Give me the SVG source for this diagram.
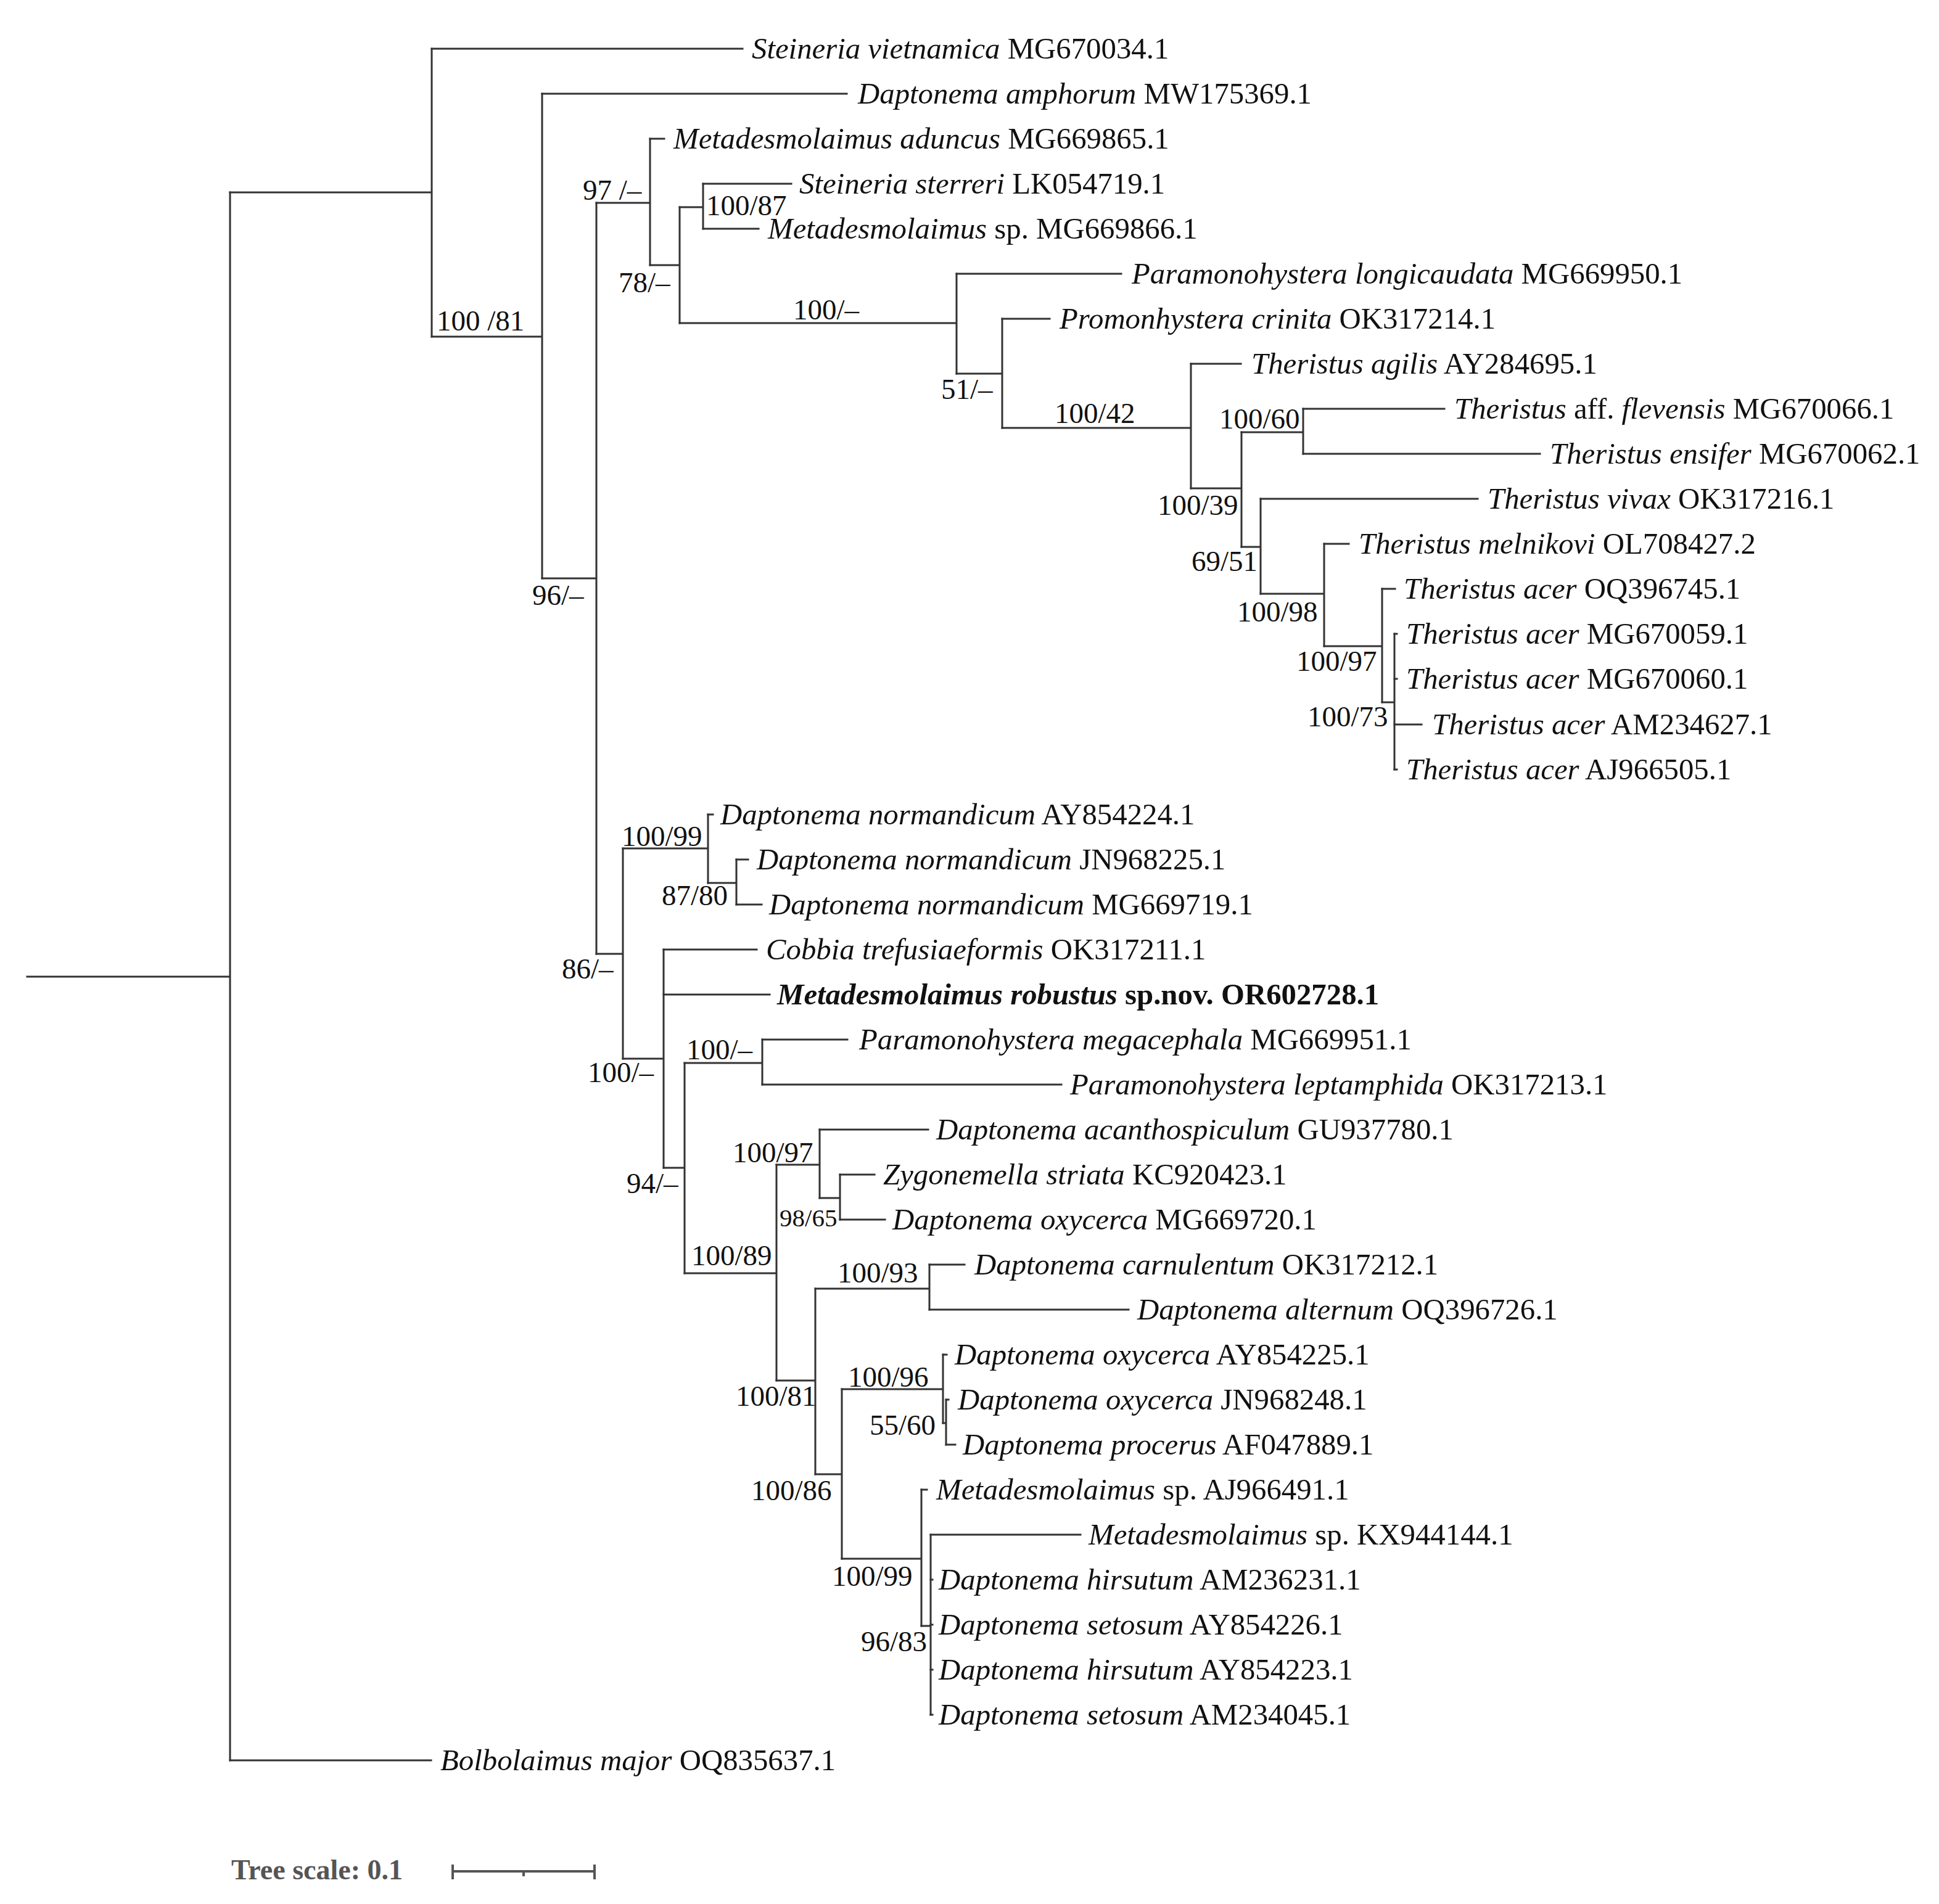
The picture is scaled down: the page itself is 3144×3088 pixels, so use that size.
<svg xmlns="http://www.w3.org/2000/svg" width="3144" height="3088" viewBox="0 0 3144 3088">
<style>
.br{fill:none;stroke:#333;stroke-width:3;stroke-linecap:square}
.lf{font-family:"Liberation Serif","Times New Roman",serif;font-size:48.8px;fill:#111}
.i{font-style:italic}
.bs{font-family:"Liberation Serif","Times New Roman",serif;font-size:47px;fill:#111}
.sm{font-size:41px}
.b{font-weight:bold}
.sc{font-family:"Liberation Serif","Times New Roman",serif;font-size:46px;font-weight:bold;fill:#555}
.sb{fill:none;stroke:#555;stroke-width:4}
</style>
<rect width="3144" height="3088" fill="#fff"/>
<g id="connectors">
<path class="br" d="M44 1584H373M373 312V2855"/>
<path class="br" d="M373 312H700M700 79V546"/>
<path class="br" d="M700 546H879M879 152V938"/>
<path class="br" d="M879 938H967M967 329V1547"/>
<path class="br" d="M967 329H1054M1054 225V430"/>
<path class="br" d="M1054 430H1102M1102 336V524"/>
<path class="br" d="M1102 336H1140M1140 298V371"/>
<path class="br" d="M1102 524H1551M1551 444V606"/>
<path class="br" d="M1551 606H1625M1625 517V694"/>
<path class="br" d="M1625 694H1931M1931 590V792"/>
<path class="br" d="M1931 792H2013M2013 701V887"/>
<path class="br" d="M2013 701H2113M2113 663V736"/>
<path class="br" d="M2013 887H2044M2044 809V963"/>
<path class="br" d="M2044 963H2147M2147 882V1048"/>
<path class="br" d="M2147 1048H2241M2241 955V1139"/>
<path class="br" d="M2241 1139H2261M2261 1028V1248"/>
<path class="br" d="M967 1547H1010M1010 1376V1717"/>
<path class="br" d="M1010 1376H1148M1148 1321V1432"/>
<path class="br" d="M1148 1432H1194M1194 1394V1467"/>
<path class="br" d="M1010 1717H1076M1076 1540V1894"/>
<path class="br" d="M1076 1894H1110M1110 1724V2065"/>
<path class="br" d="M1110 1724H1236M1236 1686V1759"/>
<path class="br" d="M1110 2065H1259M1259 1889V2239"/>
<path class="br" d="M1259 1889H1329M1329 1832V1943"/>
<path class="br" d="M1329 1943H1362M1362 1905V1978"/>
<path class="br" d="M1259 2239H1322M1322 2090V2391"/>
<path class="br" d="M1322 2090H1507M1507 2051V2124"/>
<path class="br" d="M1322 2391H1365M1365 2253V2528"/>
<path class="br" d="M1365 2253H1529M1529 2197V2308"/>
<path class="br" d="M1529 2308H1534M1534 2270V2343"/>
<path class="br" d="M1365 2528H1494M1494 2416V2637"/>
<path class="br" d="M1494 2637H1509M1509 2489V2781"/>
<path class="br" d="M700 79H1204M879 152H1373M1054 225H1077M1140 298H1283M1140 371H1230M1551 444H1818M1625 517H1702M1931 590H2012M2113 663H2342M2113 736H2497M2044 809H2396M2147 882H2187M2241 955H2262M2261 1028H2265M2261 1101H2265M2261 1175H2305M2261 1248H2265"/>
<path class="br" d="M1148 1321H1156M1194 1394H1213M1194 1467H1235M1076 1540H1227M1076 1613H1248M1236 1686H1374M1236 1759H1721M1329 1832H1505M1362 1905H1418M1362 1978H1435M1507 2051H1564M1507 2124H1830M1529 2197H1535M1534 2270H1538M1534 2343H1549M1494 2416H1503M1509 2489H1752M1509 2562H1512M1509 2635H1512M1509 2708H1512M1509 2781H1512M373 2855H699"/>
</g>
<g id="leaf-01"><text class="lf" x="1219" y="95"><tspan class="i">Steineria vietnamica</tspan> MG670034.1</text></g>
<g id="leaf-02"><text class="lf" x="1391" y="168"><tspan class="i">Daptonema amphorum</tspan> MW175369.1</text></g>
<g id="leaf-03"><text class="lf" x="1092" y="241"><tspan class="i">Metadesmolaimus aduncus</tspan> MG669865.1</text></g>
<g id="leaf-04"><text class="lf" x="1296" y="314"><tspan class="i">Steineria sterreri</tspan> LK054719.1</text></g>
<g id="leaf-05"><text class="lf" x="1245" y="387"><tspan class="i">Metadesmolaimus</tspan> sp. MG669866.1</text></g>
<g id="leaf-06"><text class="lf" x="1835" y="460"><tspan class="i">Paramonohystera longicaudata</tspan> MG669950.1</text></g>
<g id="leaf-07"><text class="lf" x="1718" y="533"><tspan class="i">Promonhystera crinita</tspan> OK317214.1</text></g>
<g id="leaf-08"><text class="lf" x="2029" y="606"><tspan class="i">Theristus agilis</tspan> AY284695.1</text></g>
<g id="leaf-09"><text class="lf" x="2358" y="679"><tspan class="i">Theristus</tspan> aff. <tspan class="i">flevensis</tspan> MG670066.1</text></g>
<g id="leaf-10"><text class="lf" x="2513" y="752"><tspan class="i">Theristus ensifer</tspan> MG670062.1</text></g>
<g id="leaf-11"><text class="lf" x="2412" y="825"><tspan class="i">Theristus vivax</tspan> OK317216.1</text></g>
<g id="leaf-12"><text class="lf" x="2203" y="898"><tspan class="i">Theristus melnikovi</tspan> OL708427.2</text></g>
<g id="leaf-13"><text class="lf" x="2276" y="971"><tspan class="i">Theristus acer</tspan> OQ396745.1</text></g>
<g id="leaf-14"><text class="lf" x="2280" y="1044"><tspan class="i">Theristus acer</tspan> MG670059.1</text></g>
<g id="leaf-15"><text class="lf" x="2280" y="1117"><tspan class="i">Theristus acer</tspan> MG670060.1</text></g>
<g id="leaf-16"><text class="lf" x="2322" y="1191"><tspan class="i">Theristus acer</tspan> AM234627.1</text></g>
<g id="leaf-17"><text class="lf" x="2280" y="1264"><tspan class="i">Theristus acer</tspan> AJ966505.1</text></g>
<g id="leaf-18"><text class="lf" x="1168" y="1337"><tspan class="i">Daptonema normandicum</tspan> AY854224.1</text></g>
<g id="leaf-19"><text class="lf" x="1227" y="1410"><tspan class="i">Daptonema normandicum</tspan> JN968225.1</text></g>
<g id="leaf-20"><text class="lf" x="1247" y="1483"><tspan class="i">Daptonema normandicum</tspan> MG669719.1</text></g>
<g id="leaf-21"><text class="lf" x="1242" y="1556"><tspan class="i">Cobbia trefusiaeformis</tspan> OK317211.1</text></g>
<g id="leaf-22"><text class="lf b" x="1260" y="1629"><tspan class="i">Metadesmolaimus robustus</tspan> sp.nov. OR602728.1</text></g>
<g id="leaf-23"><text class="lf" x="1393" y="1702"><tspan class="i">Paramonohystera megacephala</tspan> MG669951.1</text></g>
<g id="leaf-24"><text class="lf" x="1735" y="1775"><tspan class="i">Paramonohystera leptamphida</tspan> OK317213.1</text></g>
<g id="leaf-25"><text class="lf" x="1518" y="1848"><tspan class="i">Daptonema acanthospiculum</tspan> GU937780.1</text></g>
<g id="leaf-26"><text class="lf" x="1432" y="1921"><tspan class="i">Zygonemella striata</tspan> KC920423.1</text></g>
<g id="leaf-27"><text class="lf" x="1447" y="1994"><tspan class="i">Daptonema oxycerca</tspan> MG669720.1</text></g>
<g id="leaf-28"><text class="lf" x="1580" y="2067"><tspan class="i">Daptonema carnulentum</tspan> OK317212.1</text></g>
<g id="leaf-29"><text class="lf" x="1844" y="2140"><tspan class="i">Daptonema alternum</tspan> OQ396726.1</text></g>
<g id="leaf-30"><text class="lf" x="1548" y="2213"><tspan class="i">Daptonema oxycerca</tspan> AY854225.1</text></g>
<g id="leaf-31"><text class="lf" x="1553" y="2286"><tspan class="i">Daptonema oxycerca</tspan> JN968248.1</text></g>
<g id="leaf-32"><text class="lf" x="1561" y="2359"><tspan class="i">Daptonema procerus</tspan> AF047889.1</text></g>
<g id="leaf-33"><text class="lf" x="1518" y="2432"><tspan class="i">Metadesmolaimus</tspan> sp. AJ966491.1</text></g>
<g id="leaf-34"><text class="lf" x="1765" y="2505"><tspan class="i">Metadesmolaimus</tspan> sp. KX944144.1</text></g>
<g id="leaf-35"><text class="lf" x="1522" y="2578"><tspan class="i">Daptonema hirsutum</tspan> AM236231.1</text></g>
<g id="leaf-36"><text class="lf" x="1522" y="2651"><tspan class="i">Daptonema setosum</tspan> AY854226.1</text></g>
<g id="leaf-37"><text class="lf" x="1522" y="2724"><tspan class="i">Daptonema hirsutum</tspan> AY854223.1</text></g>
<g id="leaf-38"><text class="lf" x="1522" y="2797"><tspan class="i">Daptonema setosum</tspan> AM234045.1</text></g>
<g id="leaf-39"><text class="lf" x="714" y="2871"><tspan class="i">Bolbolaimus major</tspan> OQ835637.1</text></g>
<g id="node-B"><text class="bs" x="708" y="536">100 /81</text></g>
<g id="node-D"><text class="bs" x="945" y="324">97 /–</text></g>
<g id="node-F"><text class="bs" x="1003" y="474">78/–</text></g>
<g id="node-G"><text class="bs" x="1145" y="349">100/87</text></g>
<g id="node-H"><text class="bs" x="1286" y="518">100/–</text></g>
<g id="node-I"><text class="bs" x="1526" y="647">51/–</text></g>
<g id="node-J"><text class="bs" x="1710" y="686">100/42</text></g>
<g id="node-L"><text class="bs" x="1977" y="695">100/60</text></g>
<g id="node-K"><text class="bs" x="1877" y="835">100/39</text></g>
<g id="node-M"><text class="bs" x="1932" y="926">69/51</text></g>
<g id="node-N"><text class="bs" x="2006" y="1008">100/98</text></g>
<g id="node-O"><text class="bs" x="2102" y="1088">100/97</text></g>
<g id="node-P"><text class="bs" x="2120" y="1178">100/73</text></g>
<g id="node-C"><text class="bs" x="863" y="981">96/–</text></g>
<g id="node-E"><text class="bs" x="911" y="1587">86/–</text></g>
<g id="node-Q"><text class="bs" x="1008" y="1372">100/99</text></g>
<g id="node-S"><text class="bs" x="1073" y="1468">87/80</text></g>
<g id="node-R"><text class="bs" x="953" y="1755">100/–</text></g>
<g id="node-T"><text class="bs" x="1016" y="1935">94/–</text></g>
<g id="node-U"><text class="bs" x="1113" y="1718">100/–</text></g>
<g id="node-W"><text class="bs" x="1188" y="1885">100/97</text></g>
<g id="node-Y"><text class="bs sm" x="1264" y="1989">98/65</text></g>
<g id="node-V"><text class="bs" x="1121" y="2052">100/89</text></g>
<g id="node-Z"><text class="bs" x="1358" y="2080">100/93</text></g>
<g id="node-X"><text class="bs" x="1193" y="2280">100/81</text></g>
<g id="node-AB"><text class="bs" x="1375" y="2249">100/96</text></g>
<g id="node-AD"><text class="bs" x="1410" y="2327">55/60</text></g>
<g id="node-AA"><text class="bs" x="1218" y="2433">100/86</text></g>
<g id="node-AC"><text class="bs" x="1349" y="2572">100/99</text></g>
<g id="node-AE"><text class="bs" x="1396" y="2678">96/83</text></g>
<g id="scale">
<text class="sc" x="375" y="3048">Tree scale: 0.1</text>
<path class="sb" d="M734 3035H964M734 3024V3048M964 3024V3048M849 3035V3043"/>
</g>
</svg>
